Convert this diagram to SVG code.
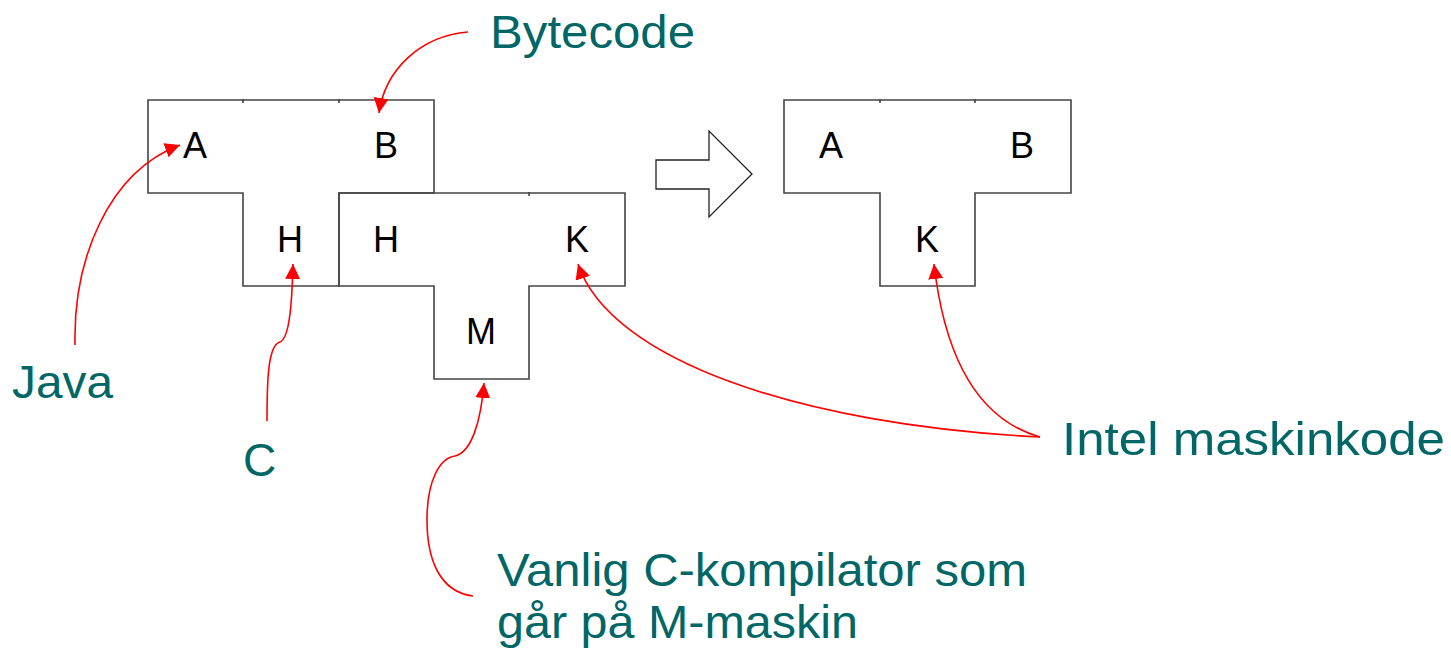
<svg xmlns="http://www.w3.org/2000/svg" width="1451" height="655" viewBox="0 0 1451 655">
<style>
.box{fill:none;stroke:#444;stroke-width:1.6;stroke-linejoin:miter}
.tick{stroke:#444;stroke-width:1.6}
.let{font-family:"Liberation Sans",Arial,sans-serif;font-size:36px;fill:#000;text-anchor:middle}
.lbl{font-family:"Liberation Sans",Arial,sans-serif;font-size:46px;fill:#006666}
.con{fill:none;stroke:#ff0000;stroke-width:1.6}
</style>
<defs>
<marker id="ah" viewBox="0 0 15 15" refX="15" refY="7.5" markerWidth="15" markerHeight="15" markerUnits="userSpaceOnUse" orient="auto">
<path d="M0,0 L15,7.5 L0,15 Z" fill="#ff0000"/>
</marker>
</defs>
<rect width="1451" height="655" fill="#fff"/>
<g id="t1">
<polygon class="box" points="148,100 434,100 434,193 339,193 339,286 243,286 243,193 148,193"/>
<line class="tick" x1="243" y1="99" x2="243" y2="103"/>
<line class="tick" x1="339" y1="99" x2="339" y2="103"/>
<text class="let" x="195" y="158">A</text>
<text class="let" x="386" y="158">B</text>
<text class="let" x="290" y="252">H</text>
</g>
<g id="t2">
<polygon class="box" points="339,193 625,193 625,286 529,286 529,379 434,379 434,286 339,286"/>
<line class="tick" x1="529" y1="192" x2="529" y2="196"/>
<text class="let" x="386" y="252">H</text>
<text class="let" x="577" y="252">K</text>
<text class="let" x="481" y="344">M</text>
</g>
<g id="bigarrow">
<polygon class="box" style="stroke:#222;stroke-width:1.3" points="656,160 709,160 709,131 752,174 709,217 709,189 656,189"/>
</g>
<g id="t3">
<polygon class="box" points="784,100 1071,100 1071,193 975,193 975,286 880,286 880,193 784,193"/>
<line class="tick" x1="880" y1="99" x2="880" y2="103"/>
<line class="tick" x1="975" y1="99" x2="975" y2="103"/>
<text class="let" x="831" y="158">A</text>
<text class="let" x="1022" y="158">B</text>
<text class="let" x="927" y="252">K</text>
</g>
<g id="labels">
<text class="lbl" x="490" y="48" textLength="205" lengthAdjust="spacingAndGlyphs">Bytecode</text>
<text class="lbl" x="12" y="398" textLength="101" lengthAdjust="spacingAndGlyphs">Java</text>
<text class="lbl" x="243" y="476">C</text>
<text class="lbl" x="1062" y="455" textLength="383" lengthAdjust="spacingAndGlyphs">Intel maskinkode</text>
<text class="lbl" x="497" y="586" textLength="530" lengthAdjust="spacingAndGlyphs">Vanlig C-kompilator som</text>
<text class="lbl" x="497" y="638" textLength="361" lengthAdjust="spacingAndGlyphs">går på M-maskin</text>
</g>
<g id="connectors">
<path class="con" marker-end="url(#ah)" d="M468,32 C420,36 385,70 379,113"/>
<path class="con" marker-end="url(#ah)" d="M75,345 C73,260 108,172 180,145"/>
<path class="con" marker-end="url(#ah)" d="M267,421 C267,380 268,345 280,342 C290,338 292,300 293,264"/>
<path class="con" marker-end="url(#ah)" d="M473,596 C440,592 427,560 427,520 C427,480 440,458 455,456 C472,452 481,420 484,383"/>
<path class="con" marker-end="url(#ah)" d="M1040,437 C800,425 610,360 578,264"/>
<path class="con" marker-end="url(#ah)" d="M1040,437 C980,420 945,360 934,264"/>
</g>
</svg>
